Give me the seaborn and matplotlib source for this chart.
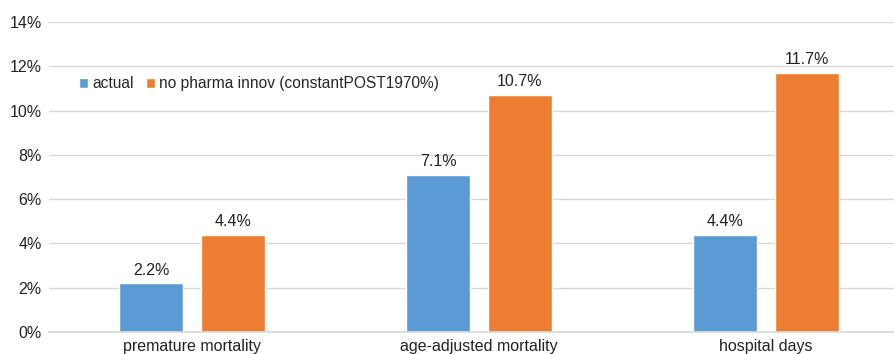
import matplotlib
matplotlib.use("Agg")
import matplotlib.pyplot as plt
import pandas as pd
import seaborn as sns
from matplotlib.ticker import PercentFormatter

categories = ["premature mortality", "age-adjusted mortality", "hospital days"]
series_names = ["actual", "no pharma innov (constantPOST1970%)"]
actual = [2.2, 7.1, 4.4]
no_innov = [4.4, 10.7, 11.7]
colors = ["#5B9BD5", "#ED7D31"]

df = pd.DataFrame({
    "category": categories * 2,
    "series": [series_names[0]] * 3 + [series_names[1]] * 3,
    "value": actual + no_innov,
})

sns.set_theme(style="white")
plt.rcParams["font.family"] = ["Liberation Sans", "DejaVu Sans"]

fig = plt.figure(figsize=(8.95, 3.54), dpi=100)
# the plot area runs a little past the right edge of the image, as in the source
ax = fig.add_axes([0.0545, 0.062, 0.9615, 0.876])

sns.barplot(
    data=df, x="category", y="value", hue="series",
    palette=colors, saturation=1, width=0.571, gap=0.22, ax=ax,
)

fs = 11.5
for cont in ax.containers:
    ax.bar_label(cont, fmt="%.1f%%", padding=4, fontsize=fs, color="#222222")

ax.set_ylim(0, 14)
ax.set_yticks(range(0, 15, 2))
ax.yaxis.set_major_formatter(PercentFormatter(decimals=0))
ax.grid(axis="y", color="#D9D9D9", linewidth=1)
ax.set_axisbelow(True)
for side in ["left", "right", "top"]:
    ax.spines[side].set_visible(False)
ax.spines["bottom"].set_color("#D9D9D9")
ax.tick_params(axis="both", length=0, labelsize=fs, colors="#222222", pad=5)
ax.set_xlabel("")
ax.set_ylabel("")

ax.legend(
    loc="center left", bbox_to_anchor=(0.028, 0.8), ncol=2, frameon=False,
    fontsize=11.2, handlelength=0.55, handleheight=0.55, handletextpad=0.3,
    columnspacing=0.8, borderaxespad=0,
)

fig.savefig("out.png", dpi=100)
